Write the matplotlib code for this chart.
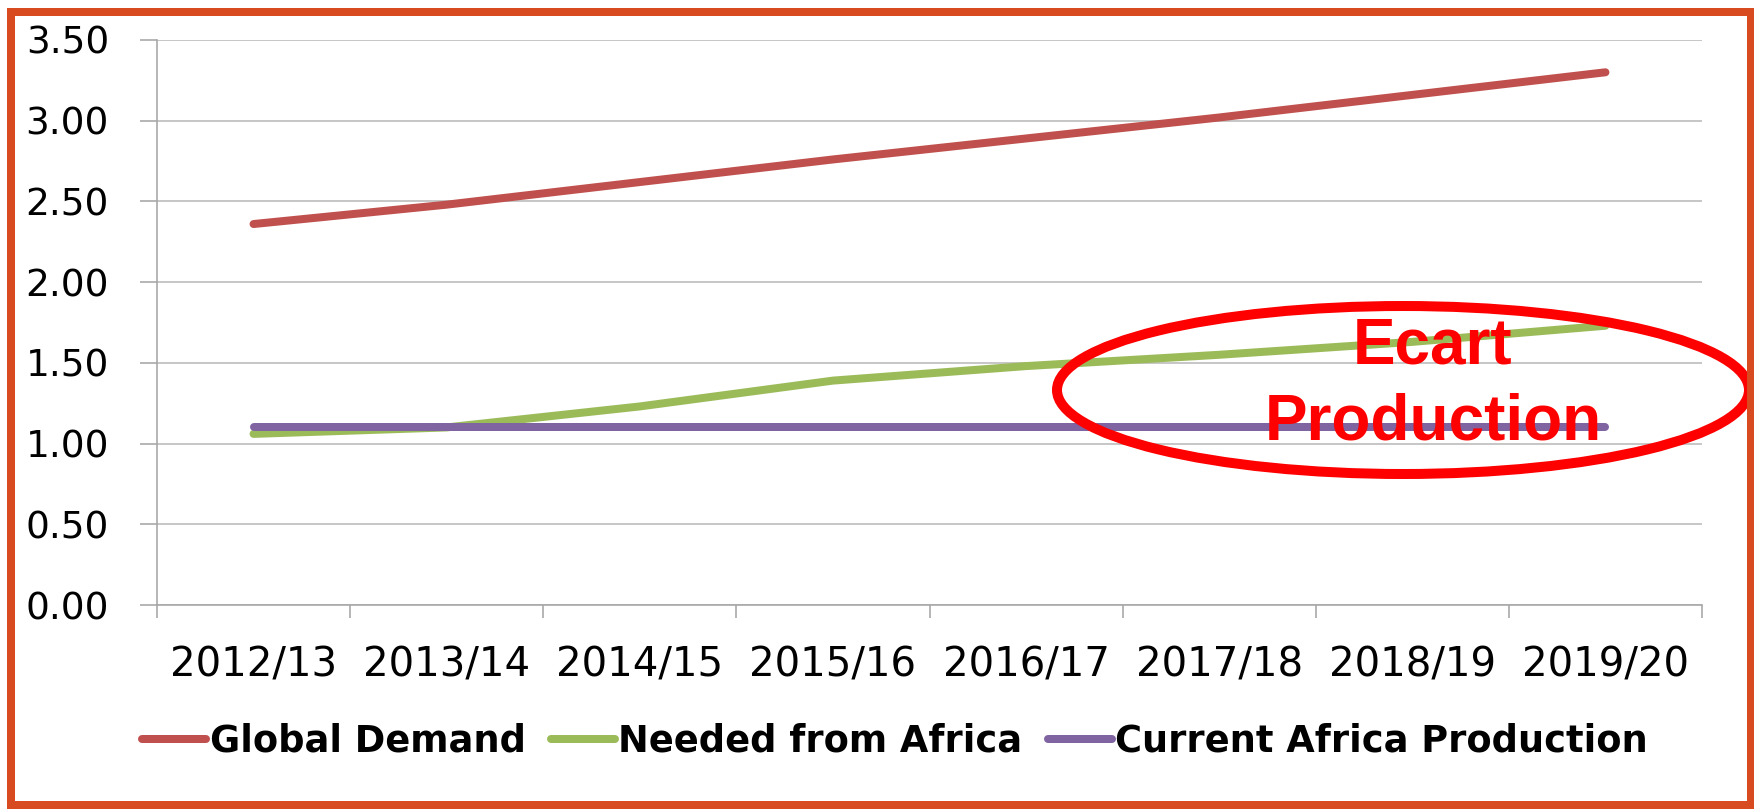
import numpy as np
import matplotlib
matplotlib.use("Agg")
import matplotlib.pyplot as plt
from matplotlib.patches import Ellipse, Rectangle

# ---------------- data ----------------
categories = ["2012/13", "2013/14", "2014/15", "2015/16",
              "2016/17", "2017/18", "2018/19", "2019/20"]
global_demand = [2.36, 2.48, 2.62, 2.76, 2.89, 3.02, 3.16, 3.30]
needed_from_africa = [1.06, 1.10, 1.23, 1.39, 1.48, 1.55, 1.63, 1.73]
current_africa_production = [1.10, 1.10, 1.10, 1.10, 1.10, 1.10, 1.10, 1.10]
series_labels = ["Global Demand", "Needed from Africa", "Current Africa Production"]
y_ticks = [0.0, 0.5, 1.0, 1.5, 2.0, 2.5, 3.0, 3.5]
annotation_lines = ["Ecart", "Production"]

# ---------------- figure ----------------
W, H = 1754, 809
DPI = 100
PX = 72.0 / DPI  # points per pixel

fig = plt.figure(figsize=(W / DPI, H / DPI), dpi=DPI)
fig.patch.set_facecolor("white")

ax_left, ax_right, ax_top, ax_bottom = 157, 1702, 40, 605
ax = fig.add_axes([ax_left / W, 1 - ax_bottom / H,
                   (ax_right - ax_left) / W, (ax_bottom - ax_top) / H])

x = np.arange(len(categories))
colors = ["#C0504D", "#9BBB59", "#8064A2"]
for vals, col, lab in zip([global_demand, needed_from_africa, current_africa_production],
                          colors, series_labels):
    ax.plot(x, vals, color=col, lw=8 * PX, solid_capstyle="round", label=lab, zorder=3)

ax.set_xlim(-0.5, len(categories) - 0.5)
ax.set_ylim(0, 3.5)

grid_col = "#BABABA"
axis_col = "#A6A6A6"
ax.set_yticks(y_ticks)
ax.set_yticklabels([f"{v:.2f}" for v in y_ticks])
ax.yaxis.grid(True, color=grid_col, lw=1.6 * PX, zorder=0)
ax.set_axisbelow(True)

ax.set_xticks(x)
ax.set_xticklabels(categories)
ax.set_xticks(np.arange(-0.5, len(categories), 1.0), minor=True)
ax.tick_params(axis="x", which="major", length=0, pad=29, labelsize=29)
ax.tick_params(axis="x", which="minor", length=13 * PX, width=1.6 * PX,
               color=axis_col, direction="out")
ax.tick_params(axis="y", which="major", length=17 * PX, width=1.6 * PX, color=axis_col,
               direction="out", pad=31 * PX, labelsize=27)

for s in ["top", "right"]:
    ax.spines[s].set_visible(False)
for s in ["left", "bottom"]:
    ax.spines[s].set_color(axis_col)
    ax.spines[s].set_linewidth(1.6 * PX)

for lab in ax.get_xticklabels() + ax.get_yticklabels():
    lab.set_family("DejaVu Sans")
    lab.set_color("black")

# ---------------- legend ----------------
leg = fig.legend(loc="center", bbox_to_anchor=(895 / W, 1 - 741 / H), ncol=3,
                 frameon=False, prop={"family": "DejaVu Sans", "weight": "bold", "size": 26.5},
                 handlelength=1.74, handletextpad=0.1, columnspacing=0.68,
                 borderpad=0, borderaxespad=0)

# ---------------- annotation ellipse + text ----------------
px_per_x = (ax_right - ax_left) / len(categories)
px_per_y = (ax_bottom - ax_top) / 3.5
cx = (1403 - ax_left) / px_per_x - 0.5
cy = (ax_bottom - 390) / px_per_y
ell = Ellipse((cx, cy), 692 / px_per_x, 168 / px_per_y, fill=False,
              edgecolor="#FF0000", lw=10 * PX, clip_on=False, zorder=5)
ax.add_patch(ell)

fig.text(1433 / W, 1 - 363 / H, annotation_lines[0], ha="center", va="baseline",
         color="#FF0000", fontsize=46, fontweight="bold", family="Liberation Sans", zorder=6)
fig.text(1433 / W, 1 - 439 / H, annotation_lines[1], ha="center", va="baseline",
         color="#FF0000", fontsize=46, fontweight="bold", family="Liberation Sans", zorder=6)

# ---------------- outer border ----------------
border = Rectangle((11 / W, 1 - 804.5 / H), (1751 - 11) / W, (804.5 - 12) / H,
                   transform=fig.transFigure, fill=False, edgecolor="#D84B20",
                   lw=8 * PX, zorder=10)
fig.patches.append(border)

fig.savefig("out.png", dpi=DPI, facecolor="white")
